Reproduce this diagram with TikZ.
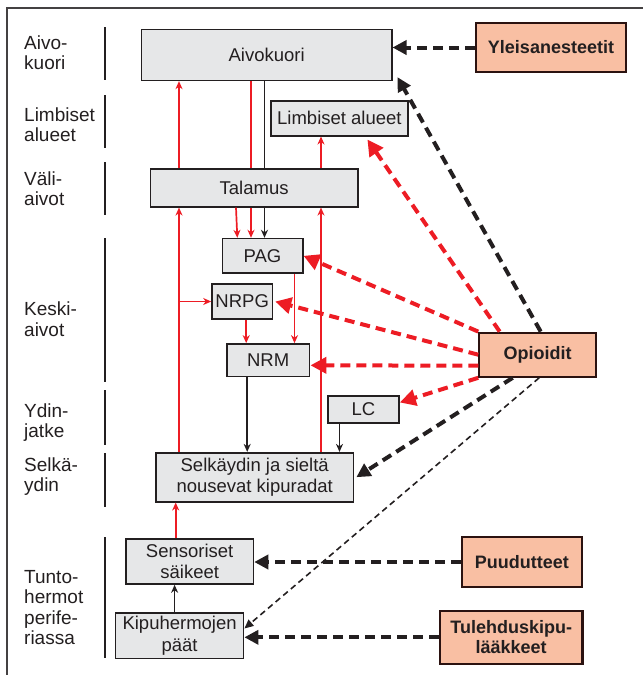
\documentclass[tikz,border=0pt]{standalone}
\usepackage{fontspec}
\setmainfont{Liberation Sans}
\usetikzlibrary{arrows.meta}
\definecolor{boxgray}{HTML}{E6E7E8}
\definecolor{drugfill}{HTML}{F9BFA3}
\definecolor{drugline}{HTML}{2B1210}
\definecolor{painred}{HTML}{ED1C24}
\definecolor{ink}{HTML}{231F20}

\begin{document}
\begin{tikzpicture}[x=1pt,y=-1pt,
	area/.style={draw=ink,line width=1.6pt,fill=boxgray,text=ink,inner sep=0pt,align=center,font=\fontsize{18.5}{21.5}\selectfont},
	drug/.style={draw=drugline,line width=2.2pt,fill=drugfill,text=ink,inner sep=0pt,align=center,font=\fontsize{18}{20.5}\selectfont\bfseries},
	lbl/.style={anchor=west,inner sep=0pt,align=left,text=ink,font=\fontsize{19}{20.5}\selectfont},
	sep/.style={ink,line width=1.8pt},
	redline/.style={painred,line width=1.7pt,-{Stealth[length=8pt,width=7pt,inset=2.5pt]}},
	blkline/.style={ink,line width=1.7pt,-{Stealth[length=8pt,width=7pt,inset=2.5pt]}},
	reddash/.style={painred,line width=4pt,dash pattern=on 10pt off 6pt,-{Triangle[length=16pt,width=16pt]}},
	blkdash/.style={ink,line width=4pt,dash pattern=on 10pt off 6pt,-{Triangle[length=14pt,width=14pt]}},
	thindash/.style={ink,line width=1.6pt,dash pattern=on 6pt off 4pt,-{Triangle[length=9pt,width=8pt]}}]
	\useasboundingbox (0,0) rectangle (643,675);
	\draw[ink!85,line width=2.2pt] (7,675) -- (7,8) -- (643,8);

	% levels on the left
	\node[lbl] (l1) at (24,52.5) {Aivo-\\kuori};
	\node[lbl] (l2) at (24,124.5) {Limbiset\\alueet};
	\node[lbl] (l3) at (24,188.5) {Väli-\\aivot};
	\node[lbl] (l4) at (24,319) {Keski-\\aivot};
	\node[lbl] (l5) at (24,422.5) {Ydin-\\jatke};
	\node[lbl] (l6) at (24,476.5) {Selkä-\\ydin};
	\node[lbl] (l7) at (24,607.5) {Tunto-\\hermot\\perife-\\riassa};
	\draw[sep] (104.6,27) -- (104.6,80);
	\draw[sep] (104.6,95) -- (104.6,148);
	\draw[sep] (104.6,162) -- (104.6,215);
	\draw[sep] (104.6,238) -- (104.6,382);
	\draw[sep] (104.6,390) -- (104.6,445);
	\draw[sep] (104.6,453) -- (104.6,507);
	\draw[sep] (104.6,537) -- (104.6,658);

	% boxes
	\node[area,minimum width=250.2pt,minimum height=50.7pt] (aivokuori) at (266.6,55) {Aivokuori};
	\node[area,minimum width=137.3pt,minimum height=35pt] (limbiset) at (339.4,118.2) {Limbiset alueet};
	\node[area,minimum width=207.2pt,minimum height=37.7pt] (talamus) at (254.1,187.9) {Talamus};
	\node[area,minimum width=80.4pt,minimum height=34.4pt] (pag) at (262.5,255.8) {PAG};
	\node[area,minimum width=60.4pt,minimum height=35pt] (nrpg) at (242.2,301.5) {NRPG};
	\node[area,minimum width=82.9pt,minimum height=32.7pt] (nrm) at (268.2,360.3) {NRM};
	\node[area,minimum width=71pt,minimum height=26.7pt] (lc) at (363.5,409.5) {LC};
	\node[area,minimum width=197.7pt,minimum height=49pt] (selk) at (254.7,477.2) {Selkäydin ja sieltä\\nousevat kipuradat};
	\node[area,minimum width=127.5pt,minimum height=45pt] (sens) at (189.7,561.5) {Sensoriset\\säikeet};
	\node[area,minimum width=128pt,minimum height=45.6pt] (kipu) at (179.6,635.5) {Kipuhermojen\\päät};

	\node[drug,minimum width=150.5pt,minimum height=48.4pt] (ylei) at (551,47.5) {Yleisanesteetit};
	\node[drug,minimum width=116.7pt,minimum height=44pt] (opio) at (537.7,354.7) {Opioidit};
	\node[drug,minimum width=119.6pt,minimum height=49.7pt] (puud) at (521.8,562) {Puudutteet};
	\node[drug,minimum width=142.4pt,minimum height=53.3pt] (tuleh) at (511.2,637.3) {Tulehduskipu-\\lääkkeet};

	% pain pathways
	\coordinate (lx) at (179,0);
	\coordinate (rx) at (321,0);
	\draw[redline] (lx |- selk.north) -- (lx |- talamus.south);
	\draw[redline] (lx |- talamus.north) -- (lx |- aivokuori.south);
	\draw[redline] (lx |- nrpg.west) -- (nrpg.west);
	\draw[redline] (rx |- selk.north) -- (rx |- talamus.south);
	\draw[redline] (rx |- talamus.north) -- (rx |- limbiset.south);
	\draw[painred,line width=1.7pt] ([xshift=-11.5pt]pag.north |- aivokuori.south) -- ([xshift=-11.5pt]pag.north |- talamus.north);
	\draw[redline] ([xshift=-11.5pt]pag.north |- talamus.south) -- ([xshift=-11.5pt]pag.north);
	\draw[redline] ([xshift=-26.5pt]pag.north |- talamus.south) -- ([xshift=-25.2pt]pag.north);
	\draw[ink,line width=1.7pt] ([xshift=2pt]pag.north |- aivokuori.south) -- ([xshift=2pt]pag.north |- talamus.north);
	\draw[blkline] ([xshift=2pt]pag.north |- talamus.south) -- ([xshift=2pt]pag.north);
	\draw[redline] ([xshift=32pt]pag.south) -- ([xshift=32pt]pag.south |- nrm.north);
	\draw[redline] ([xshift=4pt]nrpg.south) -- ([xshift=4pt]nrpg.south |- nrm.north);
	\draw[blkline] ([xshift=-21pt]nrm.south) -- ([xshift=-21pt]nrm.south |- selk.north);
	\draw[blkline] ([xshift=-24pt]lc.south) -- ([xshift=-24pt]lc.south |- selk.north);
	\draw[redline] ([xshift=-14pt]sens.north) -- ([xshift=-14pt]sens.north |- selk.south);
	\draw[blkline] ([xshift=-5pt]kipu.north) -- ([xshift=-5pt]kipu.north |- sens.south);

	% drug actions
	\draw[blkdash] (ylei.west) -- (ylei.west -| aivokuori.east);
	\draw[blkdash] ([xshift=3pt]opio.north) -- ([shift={(5pt,4pt)}]aivokuori.south east);
	\draw[reddash] ([xshift=-38pt]opio.north) -- ([xshift=28pt,yshift=-3pt]limbiset.south);
	\draw[reddash] (opio.north west) -- (pag.east);
	\draw[reddash] (opio.west) -- ([xshift=2pt]nrpg.east);
	\draw[reddash] ([yshift=-11pt]opio.west) -- ([yshift=-5pt]nrm.east);
	\draw[reddash] (opio.south west) -- ([yshift=7pt]lc.east);
	\draw[blkdash] ([xshift=-25pt]opio.south) -- ([xshift=2pt]selk.east);
	\draw[thindash] ([xshift=1.5pt]opio.south) -- ([yshift=7pt]kipu.east);
	\draw[blkdash] (puud.west) -- (puud.west -| sens.east);
	\draw[blkdash] (tuleh.west) -- (tuleh.west -| kipu.east);
\end{tikzpicture}
\end{document}
